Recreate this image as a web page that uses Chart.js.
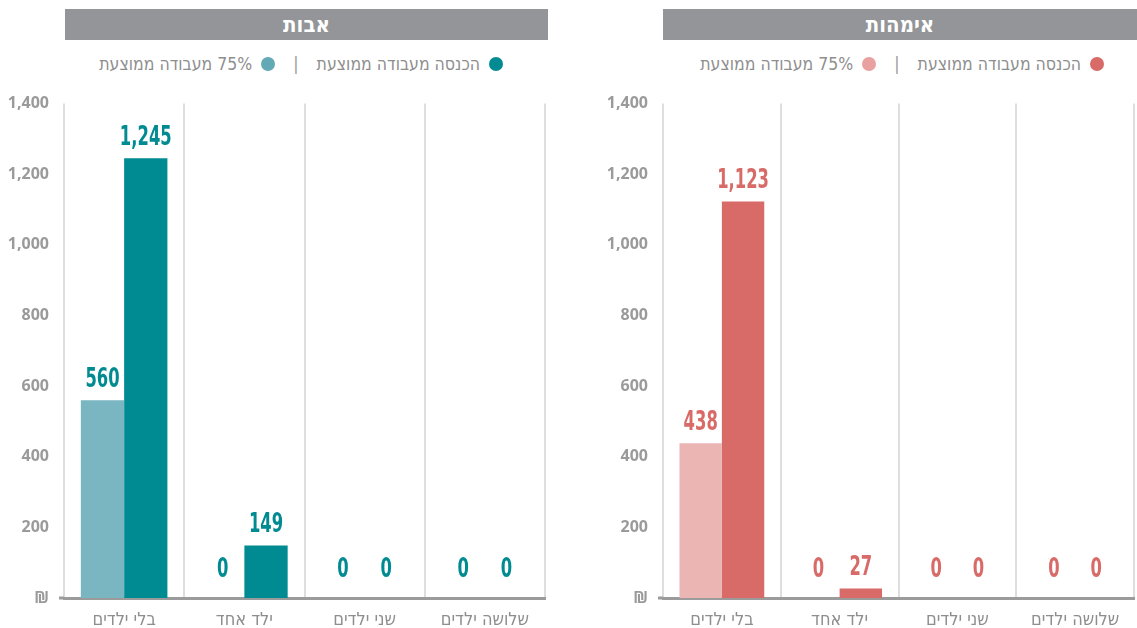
<!DOCTYPE html>
<html lang="he">
<head>
<meta charset="utf-8">
<script src="https://cdn.jsdelivr.net/npm/chart.js@4.4.1/dist/chart.umd.min.js"></script>
<style>
    body { margin: 0; background: #fff; width: 1137px; height: 628px; overflow: hidden; position: relative; font-family: 'DejaVu Sans Condensed', 'DejaVu Sans', sans-serif; font-stretch: condensed; }
    .header { position: absolute; top: 9px; height: 31px; background: #939598; color: #fff; font-weight: bold; font-size: 22px; line-height: 31px; text-align: center; }
    .legend { position: absolute; top: 52px; height: 24px; display: flex; align-items: center; direction: rtl; color: #8e8e8e; font-size: 17.5px; white-space: nowrap; }
    .legend .dot { width: 14px; height: 14px; border-radius: 50%; display: inline-block; margin-left: 9px; }
    .legend .sep { margin: 0 18px; color: #9a9a9a; }
    .panel { position: absolute; top: 79px; height: 549px; }
</style>
</head>
<body>
<div class="header" style="left:65px;width:483px">אבות</div>
<div class="legend" style="right:634px">
    <span class="dot" style="background:#008b92"></span><span>הכנסה מעבודה ממוצעת</span>
    <span class="sep">|</span>
    <span class="dot" style="background:#63aab6"></span><span>75% מעבודה ממוצעת</span>
</div>
<div class="panel" style="left:0;width:548px"><canvas id="fathers-chart"></canvas></div>

<div class="header" style="left:663px;width:474px">אימהות</div>
<div class="legend" style="right:33px">
    <span class="dot" style="background:#d86a67"></span><span>הכנסה מעבודה ממוצעת</span>
    <span class="sep">|</span>
    <span class="dot" style="background:#e8a19e"></span><span>75% מעבודה ממוצעת</span>
</div>
<div class="panel" style="left:599px;width:538px"><canvas id="mothers-chart"></canvas></div>

<script>
// Categories and values (NIS)
const categories = ['בלי ילדים', 'ילד אחד', 'שני ילדים', 'שלושה ילדים'];
const fathersAvg = [1245, 149, 0, 0];
const fathers75 = [560, 0, 0, 0];
const mothersAvg = [1123, 27, 0, 0];
const mothers75 = [438, 0, 0, 0];
const yTicks = [0, 200, 400, 600, 800, 1000, 1200, 1400];

const NARROW = "'DejaVu Sans Condensed', 'DejaVu Sans', sans-serif";

// value labels above each bar, in a condensed bold face
const barLabels = {
    id: 'barLabels',
    afterDatasetsDraw(chart, args, opts) {
        const ctx = chart.ctx;
        const area = chart.chartArea;
        ctx.save();
        // baseline runs a little past the first divider
        ctx.strokeStyle = '#9b9b9b';
        ctx.lineWidth = 3;
        ctx.beginPath();
        ctx.moveTo(area.left - 5, area.bottom);
        ctx.lineTo(area.left, area.bottom);
        ctx.stroke();

        ctx.fillStyle = opts.color;
        ctx.font = 'bold 26px ' + NARROW;
        ctx.textAlign = 'center';
        ctx.textBaseline = 'middle';
        chart.data.datasets.forEach((ds, i) => {
            const meta = chart.getDatasetMeta(i);
            meta.data.forEach((bar, j) => {
                const y = Math.min(bar.y, bar.base - 8) - 20;
                const txt = ds.data[j].toLocaleString('en-US');
                ctx.save();
                ctx.translate(bar.x, y);
                ctx.scale(0.7, 1);
                ctx.fillText(txt, 0, 0);
                ctx.restore();
            });
        });
        ctx.restore();
    }
};

function makeChart(id, light, dark, lightColor, darkColor) {
    return new Chart(document.getElementById(id), {
        type: 'bar',
        data: {
            labels: categories,
            datasets: [
                { data: light, backgroundColor: lightColor },
                { data: dark, backgroundColor: darkColor }
            ]
        },
        options: {
            responsive: true,
            maintainAspectRatio: false,
            animation: false,
            layout: { padding: { top: 4, right: 3 } },
            datasets: { bar: { categoryPercentage: 0.72, barPercentage: 1 } },
            plugins: {
                legend: { display: false },
                tooltip: { enabled: false },
                barLabels: { color: darkColor }
            },
            scales: {
                x: {
                    grid: { display: true, offset: true, color: '#dedede', lineWidth: 2, drawTicks: false },
                    border: { display: true, color: '#9b9b9b', width: 3 },
                    ticks: { color: '#8e8e8e', padding: 12, font: { family: NARROW, size: 18 } },
                    afterFit(scale) { scale.height = 30; }
                },
                y: {
                    min: 0,
                    max: 1400,
                    afterBuildTicks(scale) { scale.ticks = yTicks.map(v => ({ value: v })); },
                    grid: { display: false, drawTicks: false },
                    border: { display: false },
                    ticks: {
                        color: '#9a9a9a',
                        padding: 15,
                        font: { family: "'Open Sans', sans-serif", size: 16, weight: 'bold' },
                        callback: v => v === 0 ? '₪' : v.toLocaleString('en-US')
                    },
                    afterFit(scale) { scale.width = 64; }
                }
            }
        },
        plugins: [barLabels]
    });
}

makeChart('fathers-chart', fathers75, fathersAvg, '#7ab6c1', '#008b92');
makeChart('mothers-chart', mothers75, mothersAvg, '#eab5b3', '#d86a67');
</script>
</body>
</html>
